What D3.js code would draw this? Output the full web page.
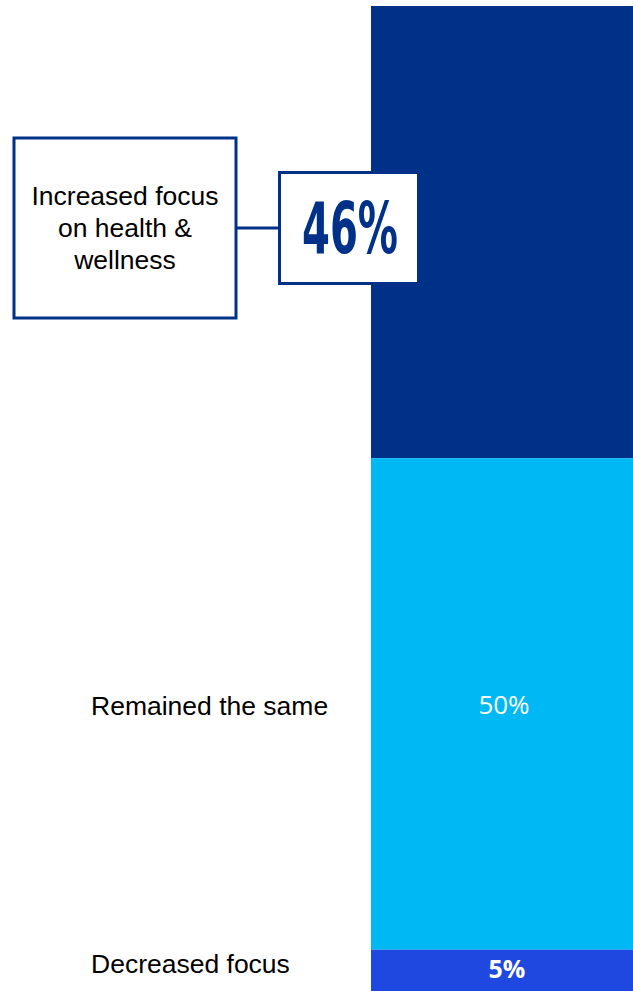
<!DOCTYPE html>
<html>
<head>
<meta charset="utf-8">
<script src="https://cdn.jsdelivr.net/npm/d3@7"></script>
<style>
  html, body { margin: 0; padding: 0; background: #fff; overflow: hidden; }
  svg { display: block; }
</style>
</head>
<body>
<svg id="chart"></svg>
<script>
const categories = ["Increased focus on health & wellness", "Remained the same", "Decreased focus"];
const values = [46, 50, 5];
const valueLabels = ["46%", "50%", "5%"];
const colors = ["#003189", "#00B9F4", "#1F48E0"];

const width = 633, height = 991;
const navy = "#003189";

const svg = d3.select("#chart")
    .attr("width", width)
    .attr("height", height);

// stacked offsets
let acc = 0;
const segs = values.map((v, i) => {
    const s = {cat: categories[i], value: v, label: valueLabels[i], y0: acc, y1: acc + v, color: colors[i]};
    acc += v;
    return s;
});

// bar runs past the bottom edge, like the original
const pxPerPct = 9.83;
const y = d3.scaleLinear()
    .domain([0, d3.sum(values)])
    .range([6, 6 + pxPerPct * d3.sum(values)]);

const x = d3.scaleBand()
    .domain(["bar"])
    .range([371, 633])
    .padding(0);

svg.selectAll(".seg")
    .data(segs)
    .enter().append("rect")
    .attr("class", "seg")
    .attr("x", x("bar"))
    .attr("width", x.bandwidth())
    .attr("y", d => y(d.y0))
    .attr("height", d => y(d.y1) - y(d.y0))
    .attr("fill", d => d.color);

const visMid = d => (y(d.y0) + Math.min(y(d.y1), height)) / 2;
const cx = x("bar") + x.bandwidth() / 2;

// value labels on the light and bright segments
svg.append("text")
    .attr("x", cx + 2)
    .attr("y", visMid(segs[1]) + 10)
    .attr("text-anchor", "middle")
    .attr("fill", "#fff")
    .style("font-family", "'Open Sans', sans-serif")
    .style("font-size", "26px")
    .text(segs[1].label);

svg.append("text")
    .attr("x", cx + 5)
    .attr("y", visMid(segs[2]) + 8)
    .attr("text-anchor", "middle")
    .attr("fill", "#fff")
    .style("font-family", "'Open Sans', sans-serif")
    .style("font-weight", "bold")
    .style("font-size", "25px")
    .text(segs[2].label);

// category labels
svg.append("text")
    .attr("x", 91)
    .attr("y", visMid(segs[1]) + 11)
    .attr("fill", "#000")
    .style("font-family", "'Liberation Sans', Arial, sans-serif")
    .style("font-size", "26.5px")
    .text(segs[1].cat);

svg.append("text")
    .attr("x", 91)
    .attr("y", 973)
    .attr("fill", "#000")
    .style("font-family", "'Liberation Sans', Arial, sans-serif")
    .style("font-size", "26.5px")
    .text(segs[2].cat);

// callout for the top segment
const callout = svg.append("g");
callout.append("rect")
    .attr("x", 14).attr("y", 138)
    .attr("width", 222).attr("height", 180)
    .attr("fill", "#fff")
    .attr("stroke", navy)
    .attr("stroke-width", 3);

callout.append("line")
    .attr("x1", 237).attr("x2", 278)
    .attr("y1", 228).attr("y2", 228)
    .attr("stroke", navy)
    .attr("stroke-width", 3);

callout.append("rect")
    .attr("x", 279.5).attr("y", 172.5)
    .attr("width", 139).attr("height", 111)
    .attr("fill", "#fff")
    .attr("stroke", navy)
    .attr("stroke-width", 3);

const lines = ["Increased focus", "on health &", "wellness"];
callout.append("text")
    .attr("x", 125)
    .attr("fill", "#000")
    .attr("text-anchor", "middle")
    .style("font-family", "'Liberation Sans', Arial, sans-serif")
    .style("font-size", "26.5px")
    .selectAll("tspan")
    .data(lines)
    .enter().append("tspan")
    .attr("x", 125)
    .attr("y", (d, i) => 205 + i * 32)
    .text(d => d);

callout.append("text")
    .attr("x", 302)
    .attr("y", 253)
    .attr("fill", navy)
    .attr("textLength", 96)
    .attr("lengthAdjust", "spacingAndGlyphs")
    .style("font-family", "'Liberation Sans Narrow', 'DejaVu Sans Condensed', sans-serif")
    .style("font-weight", "bold")
    .style("font-size", "72px")
    .text(segs[0].label);
</script>
</body>
</html>
